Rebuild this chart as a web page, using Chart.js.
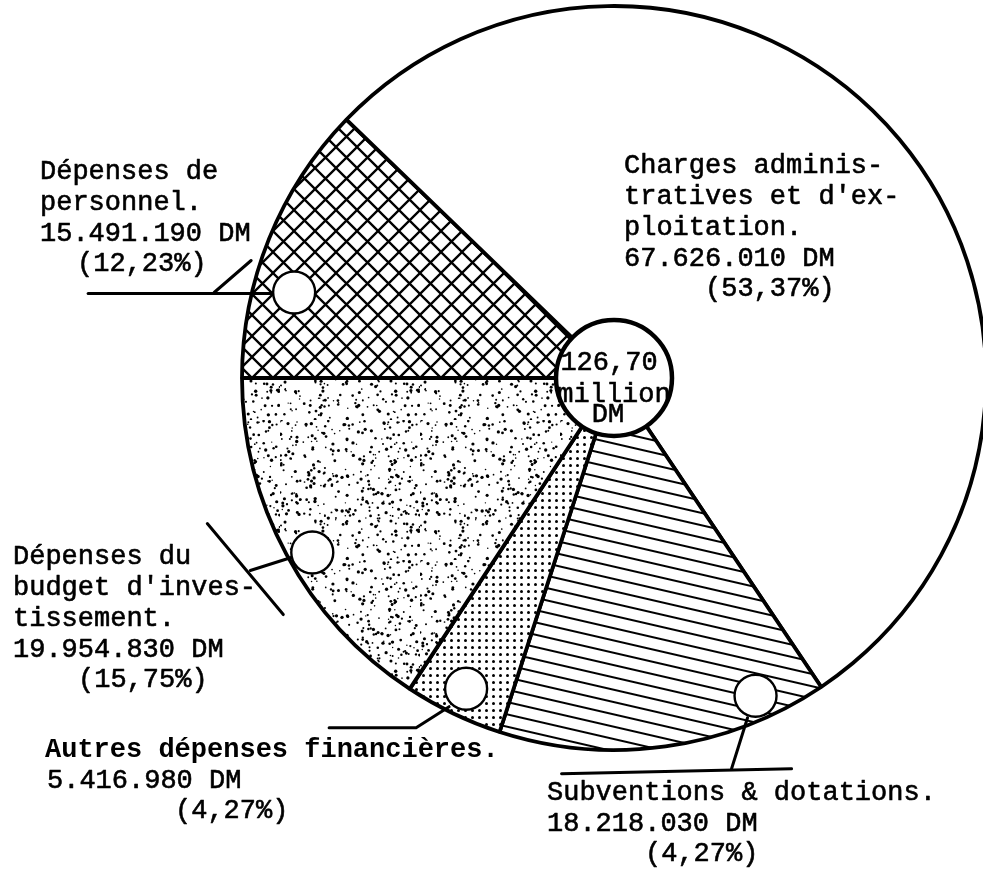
<!DOCTYPE html>
<html lang="fr">
<head>
  <meta charset="UTF-8" />
  <title>Dépenses — 126,70 million DM</title>
  <script src="https://cdn.jsdelivr.net/npm/chart.js@4.4.1/dist/chart.umd.min.js"></script>
  <style>
    html, body { margin: 0; padding: 0; background: #fff; overflow: hidden; }
    #wrap { position: relative; width: 983px; height: 874px; }
  </style>
</head>
<body>
  <div id="wrap">
    <canvas id="pie" width="983" height="874"></canvas>
  </div>

  <script>
  // slices, clockwise starting at the left horizontal radius
  const sliceNames  = ['Dépenses de personnel', "Charges administratives et d'exploitation",
                       'Subventions & dotations', 'Autres dépenses financières',
                       "Dépenses du budget d'investissement"];
  const amountsDM   = [15491190, 67626010, 18218030, 5416980, 19954830];
  const amountTexts = ['15.491.190 DM', '67.626.010 DM', '18.218.030 DM', '5.416.980 DM', '19.954.830 DM'];
  const percentTexts = ['(12,23%)', '(53,37%)', '(4,27%)', '(4,27%)', '(15,75%)'];
  const nameLines   = [
    ['Dépenses de', 'personnel.'],
    ['Charges adminis-', "tratives et d'ex-", 'ploitation.'],
    ['Subventions & dotations.'],
    ['Autres dépenses financières.'],
    ['Dépenses du', "budget d'inves-", 'tissement.']
  ];
  const totalLines  = ['126,70', 'million', 'DM'];

  // layout: label block left x / first baseline, indent of the percent line
  const labelBox = [
    { x: 40,  y: 179, px: 77 },
    { x: 624, y: 173, px: 705 },
    { x: 547, y: 800, px: 645 },
    { x: 45,  y: 757, px: 175, ax: 47 },
    { x: 13,  y: 564, px: 78 }
  ];
  // marker circle: position inside its slice (angle fraction, radius fraction)
  const markerPos = [[0.34, 0.89], null, [0.19, 0.935], [0.49, 0.925], [0.47, 0.937]];
  // leader segments, offsets from marker centre
  const leaders = [
    [[[-206, 1], [-21, 1]], [[-80, 0], [-43, -32]]],
    [],
    [[[-194, 78], [36, 73]], [[-24, 73], [-8, 22]]],
    [[[-137, 39], [-50, 39], [-17, 18]]],
    [[[-105, -29], [-29, 62]], [[-62, 18], [-21, 5]]]
  ];

  const FONT = '"Liberation Mono", "DejaVu Sans Mono", monospace';

  function tile(w, h, draw) {
    const c = document.createElement('canvas');
    c.width = w; c.height = h;
    const g = c.getContext('2d');
    g.fillStyle = '#fff'; g.fillRect(0, 0, w, h);
    g.fillStyle = '#000'; g.strokeStyle = '#000';
    draw(g);
    return c;
  }
  const ctx = document.getElementById('pie').getContext('2d');

  // crosshatch
  const hatch = ctx.createPattern(tile(21, 21, g => {
    g.lineWidth = 2.3;
    g.beginPath();
    g.moveTo(-2, -2); g.lineTo(23, 23);
    g.moveTo(-2, 23); g.lineTo(23, -2);
    g.stroke();
  }), 'repeat');

  // slanted stripes
  const stripe = ctx.createPattern(tile(40, 12, g => {
    g.fillRect(0, 5, 40, 2);
  }), 'repeat');
  stripe.setTransform(new DOMMatrix().rotate(13));

  // regular dot grid
  const dots = ctx.createPattern(tile(7, 7, g => {
    g.beginPath(); g.arc(3.5, 3.5, 1.5, 0, Math.PI * 2); g.fill();
  }), 'repeat');

  // irregular stipple (fixed seed texture)
  const stipple = ctx.createPattern(tile(140, 140, g => {
    let s = 12345;
    const rnd = () => (s = (s * 1103515245 + 12345) % 2147483648) / 2147483648;
    for (let i = 0; i < 430; i++) {
      const x = rnd() * 140, y = rnd() * 140, r = 0.7 + rnd() * 1.0;
      g.beginPath(); g.arc(x, y, r, 0, Math.PI * 2); g.fill();
    }
  }), 'repeat');

  const fills = [hatch, '#fff', stripe, dots, stipple];

  function typeText(c, t, x, y, bold) {
    c.font = (bold ? 'bold ' : '') + '27px ' + FONT;
    c.fillText(t, x, y);
    if (!bold) { c.lineWidth = 0.6; c.strokeText(t, x, y); }
  }

  const annotate = {
    id: 'annotate',
    afterDatasetsDraw(chart) {
      const c = chart.ctx;
      const arcs = chart.getDatasetMeta(0).data;
      const cx = arcs[0].x, cy = arcs[0].y, R = arcs[0].outerRadius;
      c.save();
      c.fillStyle = '#000'; c.strokeStyle = '#000';
      c.lineCap = 'round'; c.lineJoin = 'round';

      // markers and leaders
      arcs.forEach((arc, i) => {
        if (!markerPos[i]) return;
        const a = arc.startAngle + markerPos[i][0] * (arc.endAngle - arc.startAngle);
        const mx = cx + Math.cos(a) * R * markerPos[i][1];
        const my = cy + Math.sin(a) * R * markerPos[i][1];
        c.lineWidth = 3;
        leaders[i].forEach(seg => {
          c.beginPath();
          seg.forEach(([dx, dy], k) => k ? c.lineTo(mx + dx, my + dy) : c.moveTo(mx + dx, my + dy));
          c.stroke();
        });
        c.beginPath(); c.arc(mx, my, 21, 0, Math.PI * 2);
        c.fillStyle = '#fff'; c.fill();
        c.lineWidth = 2.4; c.stroke();
        c.fillStyle = '#000';
      });

      // centre total
      c.beginPath(); c.arc(cx, cy, 58, 0, Math.PI * 2);
      c.fillStyle = '#fff'; c.fill();
      c.lineWidth = 4.5; c.stroke();
      c.fillStyle = '#000';
      c.textAlign = 'center'; c.textBaseline = 'alphabetic';
      typeText(c, totalLines[0], cx - 5, cy - 8);
      typeText(c, totalLines[1], cx, cy + 24);
      typeText(c, totalLines[2], cx - 6, cy + 44);

      // labels
      c.textAlign = 'left';
      labelBox.forEach((b, i) => {
        let y = b.y;
        nameLines[i].forEach(t => { typeText(c, t, b.x, y, i === 3); y += 31; });
        typeText(c, amountTexts[i], b.ax || b.x, y); y += 30;
        typeText(c, percentTexts[i], b.px, y);
      });
      c.restore();
    }
  };

  new Chart(ctx, {
    type: 'pie',
    data: {
      labels: sliceNames,
      datasets: [{
        data: amountsDM,
        backgroundColor: fills,
        borderColor: '#000',
        borderWidth: 3.8,
        hoverOffset: 0
      }]
    },
    options: {
      responsive: false,
      animation: false,
      rotation: 270,
      radius: 372,
      layout: { padding: { left: 245, right: 0, top: 0, bottom: 118 } },
      plugins: { legend: { display: false }, tooltip: { enabled: false } }
    },
    plugins: [annotate]
  });
  </script>
</body>
</html>
